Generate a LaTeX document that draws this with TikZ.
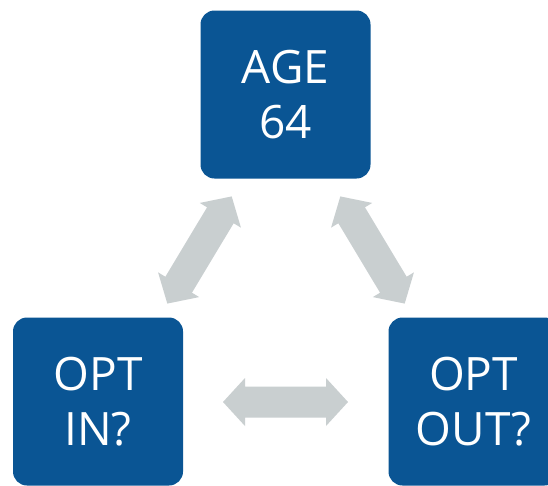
\documentclass[tikz,border=0pt]{standalone}
\usepackage{fontspec}
\setmainfont{Open Sans}
\definecolor{boxblue}{HTML}{0A5594}
\definecolor{arrowgrey}{HTML}{C9CFD0}
\newcommand\dblarrow[3]{%
  \fill[arrowgrey, shift={(#1)}, rotate=#3]
    (-62.5,0) -- (-40.5,-24) -- (-40.5,-15.5) -- (40.5,-15.5) -- (40.5,-24)
    -- (62.5,0) -- (40.5,24) -- (40.5,15.5) -- (-40.5,15.5) -- (-40.5,24) -- cycle;}
\begin{document}
\begin{tikzpicture}[x=1pt,y=-1pt,
  box/.style={fill=boxblue, rounded corners=14pt, minimum width=170pt,
    minimum height=168pt, text=white, font=\fontsize{46}{55}\selectfont,
    align=center, inner sep=0pt}]
\useasboundingbox (0,0) rectangle (548,485);
\clip (0,0) rectangle (548,485);
\fill[white] (0,0) rectangle (548,485);
\node[box] (age) at (285.5,94.5) {AGE\\64};
\node[box] (optin) at (98,401.5) {OPT\\IN?};
\node[box] (optout) at (473.5,401.5) {OPT\\OUT?};
\coordinate (al) at (199.5,250);
\coordinate (ar) at (372.5,250);
\coordinate (ab) at (285.5,402);
\dblarrow{al}{}{59}
\dblarrow{ar}{}{-59}
\dblarrow{ab}{}{0}
\end{tikzpicture}
\end{document}
